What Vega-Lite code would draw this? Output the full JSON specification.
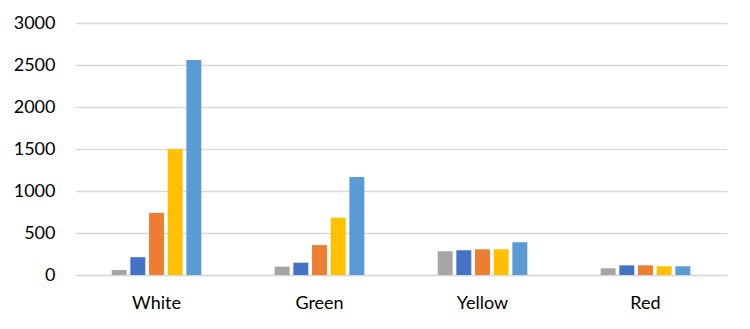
{
  "$schema": "https://vega.github.io/schema/vega-lite/v6.json",
  "autosize": {"type": "none"},
  "width": 652,
  "height": 252,
  "padding": {"left": 75, "top": 23, "right": 23, "bottom": 54},
  "background": "white",
  "data": {"values": [
    {"category": "White", "series": "S1", "value": 60},
    {"category": "White", "series": "S2", "value": 212},
    {"category": "White", "series": "S3", "value": 740},
    {"category": "White", "series": "S4", "value": 1500},
    {"category": "White", "series": "S5", "value": 2560},
    {"category": "Green", "series": "S1", "value": 100},
    {"category": "Green", "series": "S2", "value": 147},
    {"category": "Green", "series": "S3", "value": 356},
    {"category": "Green", "series": "S4", "value": 682},
    {"category": "Green", "series": "S5", "value": 1166},
    {"category": "Yellow", "series": "S1", "value": 283},
    {"category": "Yellow", "series": "S2", "value": 295},
    {"category": "Yellow", "series": "S3", "value": 306},
    {"category": "Yellow", "series": "S4", "value": 306},
    {"category": "Yellow", "series": "S5", "value": 390},
    {"category": "Red", "series": "S1", "value": 80},
    {"category": "Red", "series": "S2", "value": 115},
    {"category": "Red", "series": "S3", "value": 115},
    {"category": "Red", "series": "S4", "value": 104},
    {"category": "Red", "series": "S5", "value": 104}
  ]},
  "mark": {"type": "bar"},
  "encoding": {
    "x": {
      "field": "category", "type": "nominal", "sort": ["White", "Green", "Yellow", "Red"],
      "scale": {"paddingInner": 0.45, "paddingOuter": 0.225},
      "axis": {"title": null, "ticks": false, "domain": true, "domainColor": "#D9D9D9", "domainWidth": 1.5, "labelAngle": 0, "labelFont": "Lato", "labelFontSize": 18, "labelColor": "#000000", "labelPadding": 19}
    },
    "xOffset": {"field": "series", "type": "nominal", "scale": {"paddingInner": 0.2}},
    "y": {
      "field": "value", "type": "quantitative",
      "scale": {"domain": [0, 3000], "nice": false},
      "axis": {"title": null, "values": [0, 500, 1000, 1500, 2000, 2500, 3000], "format": "d", "ticks": false, "domain": false, "grid": true, "gridColor": "#D9D9D9", "gridWidth": 1.5, "labelFont": "Lato", "labelFontSize": 18, "labelColor": "#000000", "labelPadding": 20}
    },
    "color": {
      "field": "series", "type": "nominal", "legend": null,
      "scale": {"domain": ["S1", "S2", "S3", "S4", "S5"], "range": ["#A5A5A5", "#4472C4", "#ED7D31", "#FFC000", "#5B9BD5"]}
    }
  },
  "config": {"view": {"stroke": null}}
}
